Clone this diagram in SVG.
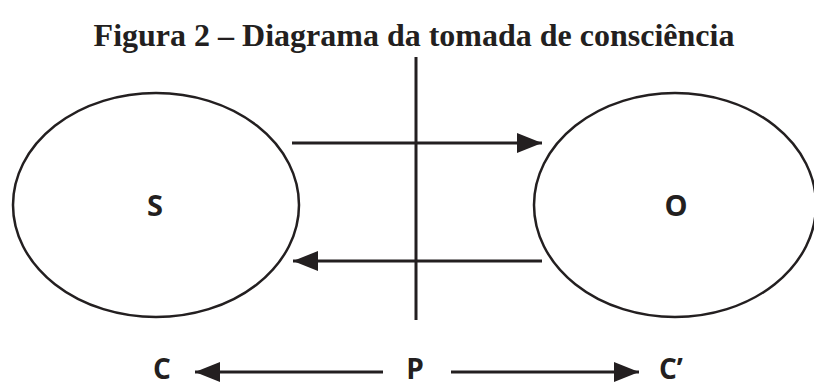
<svg xmlns="http://www.w3.org/2000/svg" width="814" height="387" viewBox="0 0 814 387">
<defs>
<marker id="ah" viewBox="0 0 25 20" refX="25" refY="10" markerWidth="25" markerHeight="20" markerUnits="userSpaceOnUse" orient="auto">
<path d="M0,0 L25,10 L0,20 Z" fill="#231f20"/>
</marker>
<style>
.title{font-family:"Liberation Serif","Times New Roman",serif;font-weight:bold;font-size:32px;fill:#231f20}
.lbl{font-family:"Open Sans","Liberation Sans",sans-serif;font-weight:bold;font-size:29px;fill:#231f20}
.blbl{font-family:"Open Sans","Liberation Sans",sans-serif;font-weight:bold;font-size:28px;fill:#231f20}
.ell{fill:none;stroke:#231f20;stroke-width:2.5}
.ln{stroke:#231f20;stroke-width:3;fill:none}
.arr{stroke:#231f20;stroke-width:3;fill:none;marker-end:url(#ah)}
</style>
</defs>
<rect width="814" height="387" fill="#fff"/>
<text class="title" x="414" y="46" text-anchor="middle">Figura 2 – Diagrama da tomada de consciência</text>
<g id="node-S">
<ellipse class="ell" cx="156" cy="205" rx="143" ry="112"/>
<text class="lbl" x="155" y="216" text-anchor="middle">S</text>
</g>
<g id="node-O">
<ellipse class="ell" cx="675" cy="205" rx="141" ry="112"/>
<text class="lbl" x="676" y="216" text-anchor="middle">O</text>
</g>
<g id="node-C"><text class="blbl" x="162" y="379" text-anchor="middle">C</text></g>
<g id="node-P"><text class="blbl" x="415" y="379" text-anchor="middle">P</text></g>
<g id="node-C2"><text class="blbl" x="671" y="379" text-anchor="middle">C’</text></g>
<g id="connectors">
<line class="ln" x1="416" y1="57" x2="416" y2="320"/>
<line class="arr" x1="292" y1="143" x2="542" y2="143"/>
<line class="arr" x1="542" y1="261" x2="293" y2="261"/>
<line class="arr" x1="383" y1="372" x2="195" y2="372"/>
<line class="arr" x1="451" y1="372" x2="639" y2="372"/>
</g>
</svg>
